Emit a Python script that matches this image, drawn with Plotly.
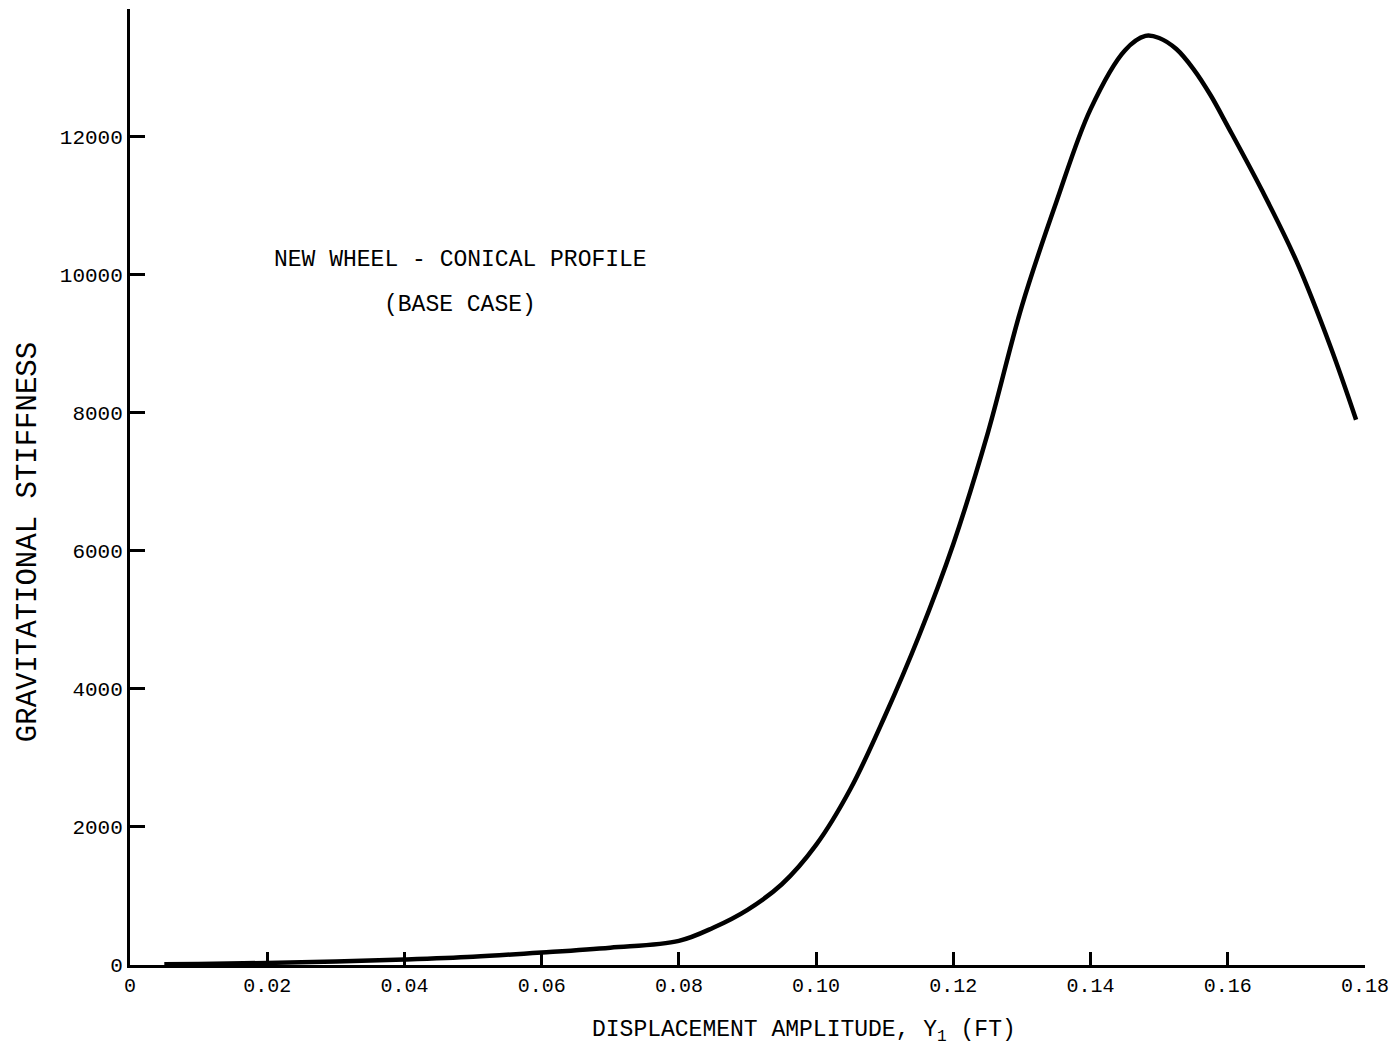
import plotly.graph_objects as go

# Data
displacement_ft = [0.005, 0.01, 0.02, 0.03, 0.04, 0.05, 0.06, 0.07, 0.08, 0.085,
                   0.09, 0.095, 0.10, 0.105, 0.11, 0.115, 0.12, 0.125, 0.13, 0.135,
                   0.14, 0.145, 0.148, 0.15, 0.1525, 0.155, 0.1575, 0.16, 0.165,
                   0.17, 0.175, 0.1787]
grav_stiffness = [10, 15, 30, 50, 80, 120, 180, 250, 350, 540,
                  800, 1170, 1740, 2550, 3600, 4770, 6100, 7700, 9550, 11050,
                  12400, 13250, 13460, 13430, 13270, 12980, 12600, 12150, 11220,
                  10200, 8950, 7900]

x_ticks = [0, 0.02, 0.04, 0.06, 0.08, 0.10, 0.12, 0.14, 0.16, 0.18]
x_tick_labels = ["0", "0.02", "0.04", "0.06", "0.08", "0.10", "0.12", "0.14", "0.16", "0.18"]
y_ticks = [0, 2000, 4000, 6000, 8000, 10000, 12000]
y_tick_labels = ["0", "2000", "4000", "6000", "8000", "10000", "12000"]

FONT = "Liberation Mono"

# page offset (browser body margin); figure sized so no scrollbars appear
OFF = 8
W, H = 1398 - 2 * OFF, 1053 - 2 * OFF
# plot area in page pixels: x 130..1367, y 9..965
pl, pt = 130 - OFF, 9 - OFF
pr = W - (1367 - OFF)
pb = H - (965 - OFF)
pw, ph = W - pl - pr, H - pt - pb


def px_to_paper(x, y):
    return (x - OFF - pl) / pw, 1 - (y - OFF - pt) / ph


fig = go.Figure()
fig.add_trace(go.Scatter(
    x=displacement_ft, y=grav_stiffness, mode="lines",
    line=dict(color="black", width=4.5, shape="spline", smoothing=1.0),
    cliponaxis=False, showlegend=False,
))

annotations = []
for text, (x, y), size, angle in [
    ("NEW WHEEL - CONICAL PROFILE", (461, 260), 23, 0),
    ("(BASE CASE)", (461, 305), 23, 0),
    ("DISPLACEMENT AMPLITUDE, Y<sub>1</sub> (FT)", (805, 1032), 23, 0),
    ("GRAVITATIONAL STIFFNESS", (28, 542), 29, -90),
]:
    ax, ay = px_to_paper(x, y)
    annotations.append(dict(
        text=text, x=ax, y=ay, xref="paper", yref="paper",
        xanchor="center", yanchor="middle", showarrow=False, textangle=angle,
        font=dict(family=FONT, size=size, color="black"),
    ))

fig.update_layout(
    width=W, height=H,
    margin=dict(l=pl, r=pr, t=pt, b=pb),
    paper_bgcolor="white", plot_bgcolor="white",
    font=dict(family=FONT, color="black", size=20),
    xaxis=dict(
        range=[0, 0.18], tickvals=x_ticks, ticktext=x_tick_labels,
        showline=True, linecolor="black", linewidth=3,
        ticks="inside", ticklen=13, tickwidth=2.5, tickcolor="black",
        showgrid=False, zeroline=False, ticklabeloverflow="allow",
        tickfont=dict(family=FONT, size=20, color="black"),
    ),
    yaxis=dict(
        range=[0, 13850], tickvals=y_ticks, ticktext=y_tick_labels,
        showline=True, linecolor="black", linewidth=3,
        ticks="inside", ticklen=15, tickwidth=2.5, tickcolor="black",
        showgrid=False, zeroline=False,
        tickfont=dict(family=FONT, size=21, color="black"),
    ),
    annotations=annotations,
)

fig.write_html("out.html")
